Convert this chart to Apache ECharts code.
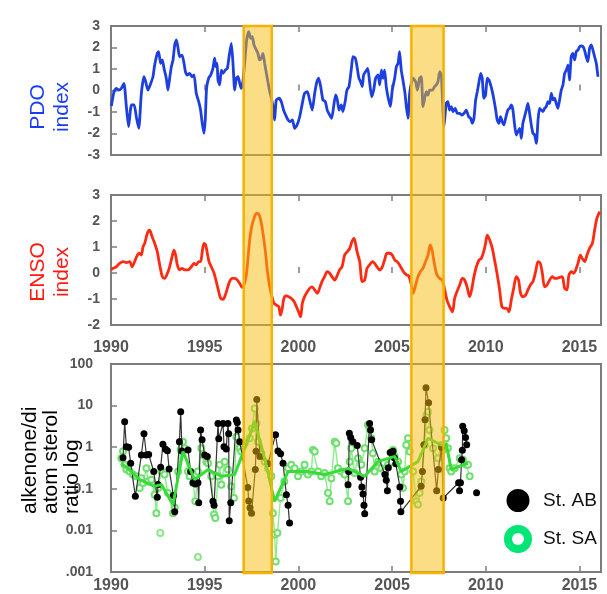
<!DOCTYPE html>
<html><head><meta charset="utf-8">
<script src="https://cdn.jsdelivr.net/npm/echarts@6/dist/echarts.min.js"></script>
<style>html,body{margin:0;padding:0;background:#fff}#c{width:607px;height:594px}</style>
</head><body><div id="c"></div>
<script>
// ---------- DATA ----------
const yearMin = 1990, yearMax = 2016.15, yearStep = 5;
const pdoTicks = { min: -3, max: 3, step: 1 };
const ensoTicks = { min: -2, max: 3, step: 1 };
const logTickLabels = ['.001', '0.01', '0.1', '1', '10', '100'];
const bands = [[1997.08, 1998.58], [2006.03, 2007.75]];
const legendNames = ['St. AB', 'St. SA'];

const pdo = [[1990.02,-0.72],[1990.16,-0.05],[1990.28,0.10],[1990.41,0.02],[1990.55,0.10],[1990.69,0.33],[1990.82,-0.75],[1990.94,-1.68],[1991.09,-0.67],[1991.23,-0.67],[1991.35,-1.22],[1991.48,-1.76],[1991.62,-0.13],[1991.76,0.64],[1991.85,0.41],[1991.97,0.02],[1992.12,0.33],[1992.24,0.64],[1992.33,1.19],[1992.47,1.73],[1992.54,1.81],[1992.65,1.26],[1992.74,1.42],[1992.83,1.03],[1992.95,0.57],[1993.04,0.02],[1993.13,0.57],[1993.22,1.11],[1993.31,1.42],[1993.40,2.12],[1993.49,2.35],[1993.58,1.96],[1993.66,1.57],[1993.79,1.65],[1993.90,1.26],[1993.97,0.88],[1994.07,0.72],[1994.20,0.80],[1994.32,0.64],[1994.43,0.72],[1994.55,-0.13],[1994.68,-0.52],[1994.78,-0.91],[1994.87,-1.53],[1994.96,-1.99],[1995.03,-1.37],[1995.10,0.10],[1995.21,0.57],[1995.32,0.72],[1995.44,1.03],[1995.53,1.50],[1995.59,1.11],[1995.66,1.26],[1995.71,0.49],[1995.80,0.26],[1995.89,0.95],[1995.98,0.80],[1996.10,0.95],[1996.21,1.03],[1996.30,1.57],[1996.42,2.19],[1996.51,1.26],[1996.60,0.02],[1996.69,0.57],[1996.78,0.64],[1996.87,0.33],[1996.95,0.10],[1997.04,0.41],[1997.13,1.26],[1997.24,2.35],[1997.35,2.74],[1997.45,2.43],[1997.54,2.50],[1997.63,2.12],[1997.76,1.88],[1997.84,1.73],[1997.93,1.42],[1998.02,1.50],[1998.11,1.73],[1998.20,1.26],[1998.34,0.57],[1998.47,-0.05],[1998.56,-0.36],[1998.68,-0.91],
[1998.73,-1.37],[1998.82,-0.44],[1998.97,-0.36],[1999.09,-0.52],[1999.21,-0.91],[1999.32,-1.14],[1999.45,-1.37],[1999.57,-1.45],[1999.68,-1.37],[1999.80,-1.76],[1999.93,-1.60],[2000.07,-1.22],[2000.21,-0.60],[2000.33,-0.13],[2000.48,-0.05],[2000.60,-0.44],[2000.74,-0.91],[2000.87,-0.13],[2000.99,0.41],[2001.08,0.57],[2001.19,0.18],[2001.31,-0.44],[2001.44,-0.52],[2001.54,-0.91],[2001.67,-1.14],[2001.78,-1.29],[2001.88,-0.75],[2001.99,-0.21],[2002.08,-0.44],[2002.17,-0.91],[2002.29,-0.67],[2002.38,-0.98],[2002.51,-0.44],[2002.59,0.02],[2002.70,0.18],[2002.83,1.03],[2002.91,1.57],[2003.04,1.50],[2003.13,1.11],[2003.23,0.57],[2003.32,0.41],[2003.41,0.18],[2003.48,0.72],[2003.59,0.88],[2003.70,1.03],[2003.80,0.41],[2003.91,-0.29],[2004.02,0.02],[2004.12,0.57],[2004.25,0.72],[2004.34,0.26],[2004.43,0.95],[2004.52,0.57],[2004.60,0.95],[2004.69,0.18],[2004.78,-0.29],[2004.91,-0.75],[2005.01,0.02],[2005.14,0.57],[2005.23,1.11],[2005.32,1.26],[2005.40,1.81],[2005.49,0.95],[2005.58,0.49],[2005.69,-0.13],[2005.76,-0.75],[2005.85,-1.29],[2005.94,-0.13],[2006.12,0.57],[2006.26,0.41],[2006.35,0.02],[2006.47,0.57],[2006.56,0.64],[2006.65,-0.75],[2006.74,-0.36],[2006.83,-0.05],[2006.92,-0.21],[2007.00,0.02],[2007.15,0.02],[2007.27,0.18],[2007.36,0.26],[2007.45,0.41],[2007.54,0.88],[2007.63,0.72],
[2007.77,-1.68],[2007.89,-0.60],[2007.98,-0.52],[2008.07,-0.91],[2008.16,-0.75],[2008.25,-0.98],[2008.37,-0.83],[2008.48,-1.06],[2008.60,-1.06],[2008.73,-1.14],[2008.84,-1.06],[2008.96,-0.91],[2009.09,-1.22],[2009.19,-1.29],[2009.28,-1.53],[2009.37,-1.29],[2009.46,-0.44],[2009.55,-0.05],[2009.64,0.41],[2009.73,0.80],[2009.81,0.57],[2009.90,-0.36],[2009.99,-0.21],[2010.08,0.57],[2010.17,0.49],[2010.26,0.26],[2010.35,-0.05],[2010.44,-0.44],[2010.53,-0.91],[2010.61,-1.37],[2010.70,-1.53],[2010.79,-1.22],[2010.88,-1.45],[2010.97,-1.60],[2011.06,-1.29],[2011.18,-0.91],[2011.27,-0.83],[2011.36,-0.67],[2011.45,-0.91],[2011.54,-1.60],[2011.63,-2.07],[2011.72,-1.91],[2011.81,-1.76],[2011.90,-2.22],[2011.98,-1.53],[2012.07,-1.22],[2012.16,-0.91],[2012.25,-0.60],[2012.34,-1.06],[2012.43,-1.60],[2012.52,-1.99],[2012.61,-2.07],[2012.70,-2.46],[2012.79,-1.37],[2012.87,-0.83],[2012.96,-0.91],[2013.05,-0.98],[2013.14,-0.83],[2013.23,-0.75],[2013.32,-0.52],[2013.41,-0.60],[2013.50,-0.13],[2013.59,-0.44],[2013.67,-0.36],[2013.76,-0.60],[2013.85,-0.83],[2013.94,-0.44],[2014.03,0.02],[2014.12,0.26],[2014.21,0.80],[2014.30,0.95],[2014.39,1.19],[2014.47,0.49],[2014.56,1.57],[2014.65,1.73],[2014.74,1.42],[2014.83,1.81],[2014.92,1.88],[2015.01,2.04],[2015.10,2.07],[2015.19,2.04],[2015.27,1.88],[2015.36,1.57],[2015.45,1.34],[2015.54,1.96],[2015.63,2.12],[2015.72,1.88],[2015.81,1.57],[2015.90,1.26],[2015.99,0.64]];

const enso = [[1990.00,0.12],[1990.11,0.18],[1990.28,0.24],[1990.46,0.37],[1990.64,0.44],[1990.82,0.40],[1991.00,0.44],[1991.12,0.24],[1991.26,0.44],[1991.41,0.69],[1991.53,0.76],[1991.62,0.69],[1991.71,1.01],[1991.80,1.14],[1991.94,1.53],[1992.06,1.65],[1992.19,1.40],[1992.33,1.14],[1992.47,0.82],[1992.60,0.31],[1992.74,-0.14],[1992.86,-0.21],[1993.01,-0.01],[1993.13,0.24],[1993.26,0.63],[1993.36,0.88],[1993.45,0.69],[1993.54,0.31],[1993.66,0.12],[1993.79,0.18],[1993.93,0.12],[1994.11,0.12],[1994.29,0.24],[1994.43,0.37],[1994.55,0.31],[1994.68,0.44],[1994.78,0.44],[1994.87,0.82],[1994.96,1.14],[1995.05,1.08],[1995.14,0.76],[1995.23,0.44],[1995.35,0.24],[1995.50,-0.01],[1995.62,-0.33],[1995.75,-0.72],[1995.85,-0.97],[1995.98,-1.01],[1996.10,-0.85],[1996.21,-0.59],[1996.33,-0.33],[1996.46,-0.21],[1996.60,-0.21],[1996.74,-0.27],[1996.87,-0.40],[1996.99,-0.55],[1997.10,-0.46],[1997.22,-0.08],[1997.31,0.56],[1997.40,1.27],[1997.49,1.72],[1997.63,2.10],[1997.76,2.29],[1997.88,2.27],[1997.99,2.04],[1998.11,1.53],[1998.24,0.82],[1998.34,0.12],[1998.47,-0.53],[1998.59,-0.91],[1998.70,-1.17],[1998.82,-1.23],[1998.95,-1.29],[1999.05,-1.62],[1999.14,-1.36],[1999.23,-0.97],[1999.36,-0.88],[1999.48,-0.91],[1999.62,-0.97],[1999.77,-1.10],[1999.89,-1.29],[2000.01,-1.49],[2000.12,-1.68],[2000.21,-1.17],[2000.33,-0.91],[2000.48,-0.72],[2000.60,-0.59],[2000.73,-0.53],[2000.87,-0.65],[2001.01,-0.78],[2001.13,-0.59],[2001.26,-0.33],[2001.40,-0.14],[2001.54,0.05],[2001.67,-0.01],[2001.79,-0.14],[2001.94,-0.27],[2002.08,-0.08],[2002.20,0.12],[2002.33,0.24],[2002.47,0.69],[2002.61,0.82],[2002.74,0.95],[2002.86,1.21],[2002.97,1.33],
[2003.13,0.82],[2003.27,0.44],[2003.41,-0.33],[2003.54,-0.27],[2003.66,0.18],[2003.80,0.31],[2003.95,0.44],[2004.07,0.37],[2004.19,0.24],[2004.34,0.12],[2004.48,0.24],[2004.60,0.50],[2004.73,0.76],[2004.87,0.76],[2005.01,0.69],[2005.14,0.50],[2005.26,0.44],[2005.40,0.31],[2005.55,0.12],[2005.67,-0.01],[2005.80,-0.08],[2005.90,-0.12],[2006.03,-0.46],[2006.12,-0.78],[2006.26,-0.46],[2006.38,-0.14],[2006.51,0.05],[2006.65,0.18],[2006.79,0.44],[2006.92,0.69],[2007.04,1.08],[2007.15,0.82],[2007.27,0.31],[2007.40,-0.08],[2007.54,-0.21],[2007.68,-0.27],[2007.81,-0.65],[2007.93,-1.04],[2008.07,-1.29],[2008.22,-1.49],[2008.34,-0.97],[2008.46,-0.72],[2008.61,-0.46],[2008.75,-0.21],[2008.87,-0.27],[2009.00,-0.53],[2009.14,-0.91],[2009.26,-0.59],[2009.37,-0.14],[2009.50,0.24],[2009.64,0.50],[2009.76,0.56],[2009.89,0.82],[2009.99,1.14],[2010.08,1.46],[2010.21,1.27],[2010.35,0.95],[2010.47,0.50],[2010.60,-0.01],[2010.74,-0.65],[2010.86,-1.29],[2011.01,-1.36],[2011.13,-1.36],[2011.24,-1.49],[2011.36,-1.04],[2011.49,-0.59],[2011.63,-0.14],[2011.75,-0.27],[2011.86,-0.78],[2011.99,-0.91],[2012.13,-0.85],[2012.25,-0.65],[2012.38,-0.46],[2012.52,-0.33],[2012.66,0.05],[2012.79,0.44],[2012.91,0.37],[2013.02,-0.01],[2013.14,-0.53],[2013.27,-0.46],[2013.41,-0.27],[2013.55,-0.14],[2013.68,-0.21],[2013.80,-0.21],[2013.94,-0.17],[2014.08,-0.14],[2014.21,-0.59],[2014.33,-0.65],[2014.44,-0.08],[2014.57,0.05],[2014.69,-0.01],[2014.80,0.12],[2014.92,0.37],[2015.05,0.69],[2015.15,0.56],[2015.28,0.44],[2015.40,0.69],[2015.54,0.95],[2015.69,1.14],[2015.81,1.65],[2015.93,2.10],[2016.08,2.36]];

const stAB = [[1990.64,0.56],[1990.73,4.1],[1990.82,1.03],[1990.94,1.0],[1991.05,0.41],[1991.30,0.066],[1991.62,0.65],[1991.76,2.1],[1991.89,0.65],[1992.01,0.67],[1992.28,0.26],[1992.47,0.063],[1992.51,0.126],[1992.65,0.33],[1992.77,1.17],[1992.90,0.91],[1993.01,0.82],[1993.10,0.30],[1993.33,0.069],[1993.40,0.028],[1993.65,1.36],[1993.72,7.1],[1993.79,0.81],[1994.11,0.86],[1994.25,0.26],[1994.38,0.14],[1994.50,0.13],[1994.64,0.14],[1994.68,0.046],[1994.78,2.6],[1994.86,1.5],[1995.00,0.65],[1995.14,0.60],[1995.44,0.05],[1995.50,0.04],[1995.71,3.7],[1995.75,1.6],[1995.98,3.7],[1996.03,1.03],[1996.15,0.91],[1996.24,3.7],[1996.28,2.1],[1996.31,0.017],[1996.39,0.046],[1996.69,4.5],[1996.74,3.9],[1996.78,2.6],[1996.87,1.36],[1997.30,0.107],[1997.35,0.051],[1997.42,0.035],[1997.50,0.026],[1997.70,0.29],[1997.74,0.8],[1997.78,14],[1997.95,0.6],[1998.38,0.4],[1998.78,2.0],[1998.91,0.81],[1999.05,0.7],[1999.18,0.41],[1999.36,0.072],[1999.45,0.04],[1999.53,0.015],[2001.0,null],[2002.65,0.125],[2002.68,0.26],[2002.72,2.15],[2002.79,1.7],[2002.91,1.36],[2003.14,1.1],[2003.32,0.19],[2003.39,0.11],[2003.45,0.075],[2003.50,0.04],[2003.54,0.025],[2003.80,3.7],[2003.85,2.6],[2003.91,1.5],[2004.62,0.22],[2004.69,0.16],[2004.75,0.09],[2004.80,0.32],[2004.90,0.75],[2005.05,0.8],[2005.12,0.56],[2005.20,0.4],[2005.42,0.11],[2005.45,0.05],[2005.47,0.028],[2006.55,0.115],[2006.62,0.26],[2006.70,1.15],[2006.76,4.6],[2006.81,27],[2006.95,11.7],[2007.38,0.09],[2007.47,0.29],[2007.64,0.98],[2007.73,0.06],[2008.55,0.14],[2008.60,0.09],[2008.65,0.14],[2008.71,0.5],[2008.75,0.85],[2008.77,3.2],[2008.85,2.5],[2008.92,1.7],[2008.98,1.15],[2009.2,null],[2009.51,0.08]];

const stSA = [[1990.55,0.54],[1990.64,0.8],[1990.73,0.38],[1990.82,0.29],[1991.00,0.26],[1991.17,0.22],[1991.35,0.20],[1991.53,0.104],[1991.62,0.18],[1991.71,0.137],[1991.89,0.31],[1991.97,0.15],[1992.15,0.165],[1992.33,0.072],[1992.42,0.026],[1992.51,0.104],[1992.69,0.26],[1992.86,0.22],[1993.04,0.079],[1993.31,0.026],[1993.40,0.035],[1993.58,0.26],[1993.72,0.86],[1993.79,1.03],[1993.84,1.36],[1993.93,0.94],[1994.11,0.26],[1994.20,0.20],[1994.38,0.137],[1994.50,0.05],[1994.64,0.26],[1994.82,0.94],[1994.91,0.65],[1995.09,0.45],[1995.18,0.41],[1995.35,0.20],[1995.50,0.024],[1995.57,0.020],[1995.71,0.20],[1995.80,0.38],[1995.89,0.125],[1996.07,0.45],[1996.24,0.29],[1996.42,0.114],[1996.56,0.06],[1996.69,1.79],[1996.87,0.94],[1996.95,0.79],[1997.13,1.24],[1997.40,1.64],[1997.52,2.8],[1997.67,8.5],[1997.76,3.7],[1997.84,1.36],[1998.02,0.72],[1998.20,0.45],[1998.38,0.31],[1998.56,0.20],[1998.64,0.026],[1998.73,0.008],[1998.79,0.0018],[1998.88,0.0087],[1999.05,0.06],[1999.25,0.15],[1999.45,0.31],[1999.62,0.38],[1999.80,0.31],[1999.98,0.20],[2000.16,0.26],[2000.33,0.38],[2000.51,0.22],[2000.69,0.26],[2000.78,0.86],[2000.87,0.79],[2001.05,0.26],[2001.22,0.20],[2001.40,0.24],[2001.58,0.079],[2001.67,0.05],[2001.76,0.18],[2001.94,1.36],[2002.02,1.24],[2002.11,0.31],[2002.29,0.26],[2002.47,0.22],[2002.65,0.05],[2002.74,0.45],[2002.82,0.94],[2003.00,0.24],[2003.18,0.54],[2003.36,0.38],[2003.54,0.94],[2003.71,3.4],[2003.80,2.8],[2003.89,1.64],[2003.98,0.72],[2004.07,0.26],[2004.25,0.45],[2004.43,0.31],[2004.60,0.26],[2004.78,0.38],[2004.96,0.45],[2005.05,0.86],[2005.14,0.60],[2005.32,0.45],[2005.49,0.22],[2005.58,0.104],[2005.67,0.26],[2005.76,1.13],[2005.85,1.64],[2005.94,0.79],[2006.12,0.26],[2006.29,0.05],[2006.38,0.042],[2006.47,0.079],[2006.56,0.15],[2006.74,1.13],[2006.83,5.9],[2006.92,7.1],[2007.00,2.6],[2007.18,0.94],[2007.45,0.54],[2007.63,1.13],[2007.72,0.86],[2007.80,2.6],[2007.89,1.64],[2007.98,0.94],[2008.07,0.31],[2008.16,0.26],[2008.34,0.31],[2008.61,0.54],[2008.78,0.50],[2008.96,0.38],[2009.05,0.38],[2009.14,0.20]];

const stSAIsolated = [[1992.63,0.0087],[1994.64,0.0023]];

const stSAMean = [[1990.55,0.41],[1991.09,0.26],[1991.53,0.166],[1992.33,0.115],[1992.69,0.126],[1993.31,0.042],[1993.84,0.79],[1994.46,0.166],[1995.18,0.29],[1995.89,0.2],[1996.60,0.22],[1997.04,0.72],[1997.67,4.1],[1998.20,0.54],[1998.73,0.05],[1999.45,0.26],[2000.51,0.26],[2001.40,0.22],[2002.65,0.31],[2003.54,0.2],[2004.25,0.45],[2005.14,0.6],[2005.49,0.26],[2006.38,0.45],[2006.92,1.64],[2007.63,1.13],[2007.89,1.2],[2008.16,0.29],[2008.87,0.39],[2009.05,0.41]];

// ---------- STYLE / LAYOUT ----------
const FONT = 'Arial, "Liberation Sans", Helvetica, sans-serif';
const frame = '#7d7d7d';
const labelColor = '#555';
const L = 111, R = 6;
const grids = [
  { left: L, right: R, top: 26, height: 129 },
  { left: L, right: R, top: 195, height: 130 },
  { left: L, right: R, top: 364, height: 209 },
  { left: L, right: R, top: 26, bottom: 21 }
].map((g, i) => Object.assign({ show: i < 3, borderColor: frame, borderWidth: 2, backgroundColor: 'transparent' }, g));

function xAxisFor(gridIndex, position, labels, margin) {
  return {
    type: 'value', gridIndex, position, min: yearMin, max: yearMax, interval: yearStep,
    axisLine: { show: false }, splitLine: { show: false },
    axisTick: { show: true, inside: true, length: 6, lineStyle: { color: frame, width: 1.5 } },
    axisLabel: { show: labels, showMaxLabel: false, margin: margin || 8, fontSize: 16, fontWeight: 'bold',
      color: labelColor, fontFamily: FONT, formatter: v => String(v) }
  };
}
function yAxisFor(gridIndex, t) {
  return {
    type: 'value', gridIndex, min: t.min, max: t.max, interval: t.step,
    axisLine: { show: false }, splitLine: { show: false },
    axisTick: { show: true, inside: true, length: 6, lineStyle: { color: frame, width: 1.5 } },
    axisLabel: { margin: 11, fontSize: 14, fontWeight: 'bold', color: labelColor, fontFamily: FONT }
  };
}

const xAxes = [
  xAxisFor(0, 'bottom', false), xAxisFor(0, 'top', false),
  xAxisFor(1, 'bottom', true, 15), xAxisFor(1, 'top', false),
  xAxisFor(2, 'bottom', true, 6),
  { type: 'value', gridIndex: 3, min: yearMin, max: yearMax, show: false }
];
const yAxes = [
  yAxisFor(0, pdoTicks),
  yAxisFor(1, ensoTicks),
  {
    type: 'log', logBase: 10, gridIndex: 2, min: 0.001, max: 100,
    axisLine: { show: false }, splitLine: { show: false }, minorTick: { show: false },
    axisTick: { show: true, inside: true, length: 6, lineStyle: { color: frame, width: 1.5 } },
    axisLabel: { margin: 18, fontSize: 14, fontWeight: 'bold', color: labelColor, fontFamily: FONT,
      formatter: v => logTickLabels[Math.round(Math.log10(v)) + 3] }
  },
  { type: 'value', gridIndex: 3, min: 0, max: 1, show: false }
];

const saLine = '#8aec8a';
const saMark = '#6fe06f';
const series = [
  { name: 'PDO', type: 'line', xAxisIndex: 0, yAxisIndex: 0, data: pdo, showSymbol: false, smooth: 0.2,
    lineStyle: { color: '#1d3fe0', width: 2.8 }, itemStyle: { color: '#1d3fe0' }, z: 2 },
  { name: 'ENSO', type: 'line', xAxisIndex: 2, yAxisIndex: 1, data: enso, showSymbol: false, smooth: 0.3,
    lineStyle: { color: '#ff2a12', width: 2.8 }, itemStyle: { color: '#ff2a12' }, z: 2 },
  { name: 'St. SA', type: 'line', xAxisIndex: 4, yAxisIndex: 2, data: stSA, symbol: 'emptyCircle', symbolSize: 6,
    showAllSymbol: true,
    lineStyle: { color: saLine, width: 1.4 }, itemStyle: { color: saMark, borderWidth: 1.5 }, z: 2 },
  { name: 'St. SA', type: 'scatter', xAxisIndex: 4, yAxisIndex: 2, data: stSAIsolated, symbol: 'emptyCircle', symbolSize: 6,
    itemStyle: { color: saMark, borderWidth: 1.5 }, z: 2 },
  { name: 'St. AB', type: 'line', xAxisIndex: 4, yAxisIndex: 2, data: stAB, symbol: 'circle', symbolSize: 7,
    showAllSymbol: true, connectNulls: false,
    lineStyle: { color: '#333', width: 1.2 }, itemStyle: { color: '#000' }, z: 3 },
  { name: 'SA mean', type: 'line', xAxisIndex: 4, yAxisIndex: 2, data: stSAMean, showSymbol: false,
    lineStyle: { color: '#38dc38', width: 3 }, itemStyle: { color: '#38dc38' }, z: 4 },
  { name: 'bands', type: 'line', xAxisIndex: 5, yAxisIndex: 3, data: [], z: 10,
    markArea: { silent: true, z: 10,
      itemStyle: { color: 'rgba(245,187,11,0.5)', borderColor: '#f5b300', borderWidth: 2.5 },
      data: bands.map(b => [{ xAxis: b[0] }, { xAxis: b[1] }]) } }
];

const titleFont = '21px ' + FONT;
const graphic = [
  { type: 'text', x: 50, y: 107, rotation: Math.PI / 2, z: 20,
    style: { text: 'PDO\nindex', font: titleFont, fill: '#1a3cf5', align: 'center', verticalAlign: 'middle', textAlign: 'center', textVerticalAlign: 'middle', lineHeight: 24 } },
  { type: 'text', x: 50, y: 272, rotation: Math.PI / 2, z: 20,
    style: { text: 'ENSO\nindex', font: titleFont, fill: '#ff1a10', align: 'center', verticalAlign: 'middle', textAlign: 'center', textVerticalAlign: 'middle', lineHeight: 24 } },
  { type: 'text', x: 51, y: 514, rotation: Math.PI / 2, z: 20,
    style: { text: 'alkenone/di\natom sterol\nratio log', font: titleFont, fill: '#000', align: 'left', verticalAlign: 'middle', textAlign: 'left', textVerticalAlign: 'middle', lineHeight: 21 } }
];

const chart = echarts.init(document.getElementById('c'), null, { renderer: 'canvas' });
chart.setOption({
  animation: false,
  backgroundColor: '#fff',
  grid: grids,
  xAxis: xAxes,
  yAxis: yAxes,
  legend: {
    orient: 'vertical', left: 499, top: 484, itemWidth: 20, itemHeight: 20, itemGap: 13, selectedMode: false,
    textStyle: { fontSize: 19, color: '#111', fontFamily: FONT, padding: [0, 0, 0, 10] },
    data: [
      { name: legendNames[0], icon: 'circle', itemStyle: { color: '#000', borderColor: '#000', borderWidth: 3 } },
      { name: legendNames[1], icon: 'circle', itemStyle: { color: '#fff', borderColor: '#00e676', borderWidth: 8 } }
    ]
  },
  graphic,
  series
});
</script>
</body></html>
